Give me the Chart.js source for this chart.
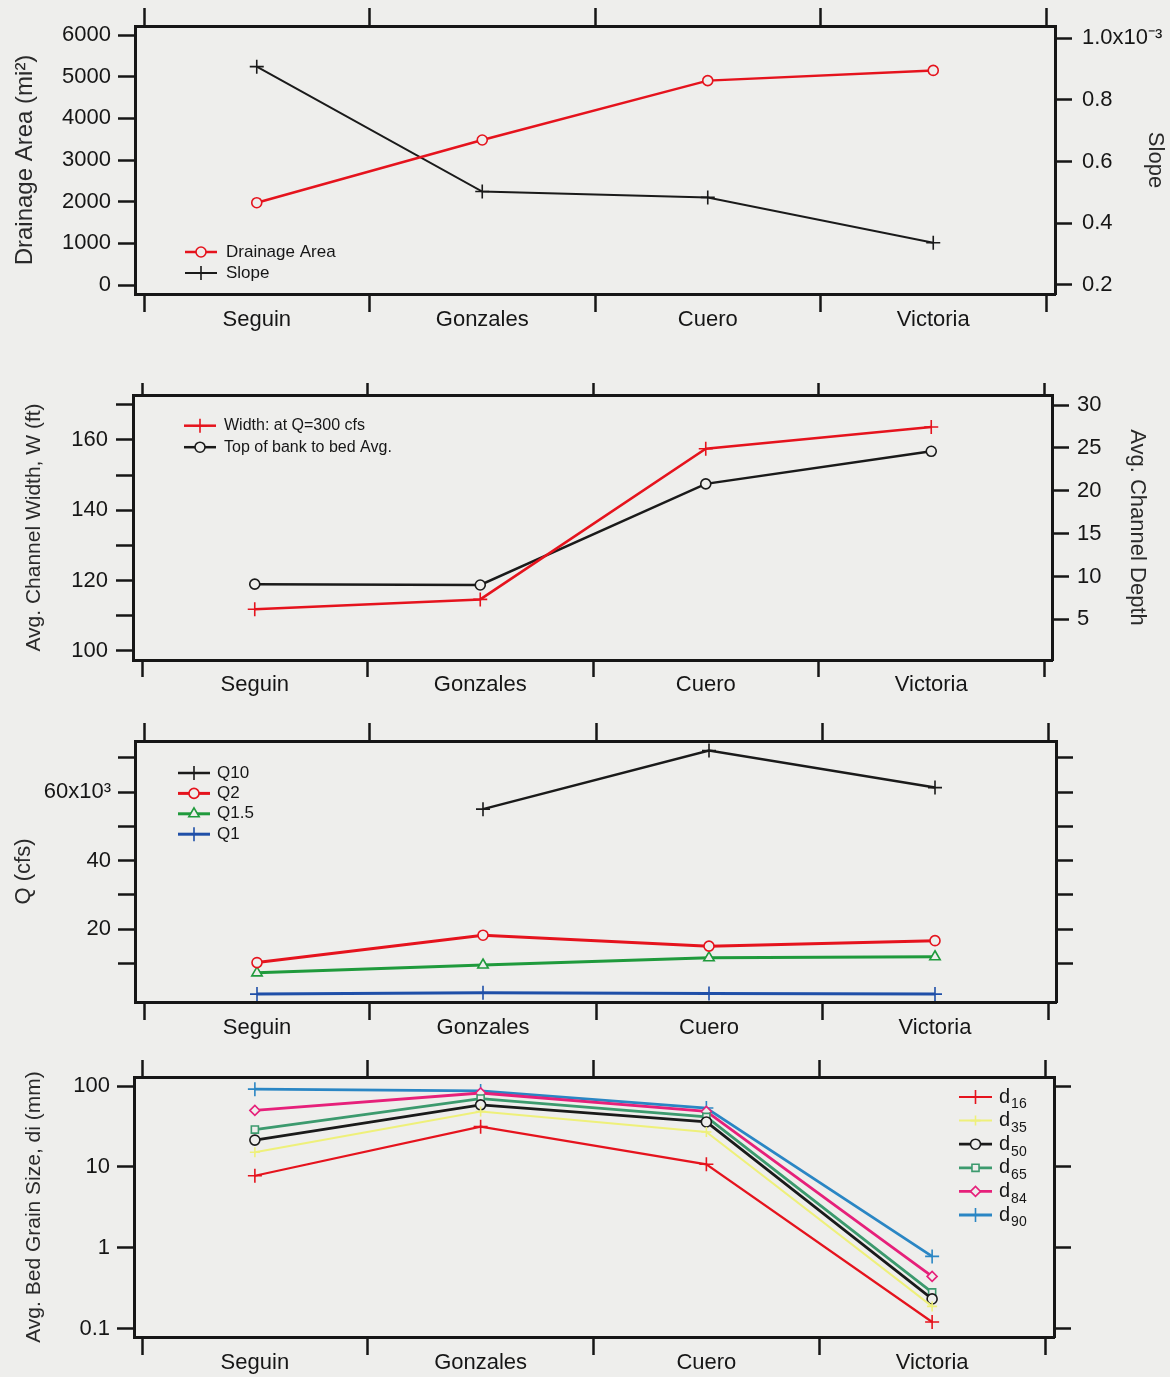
<!DOCTYPE html>
<html>
<head>
<meta charset="utf-8">
<script src="https://cdn.jsdelivr.net/npm/chart.js@4.4.1/dist/chart.umd.min.js"></script>
<style>
  html, body { margin: 0; padding: 0; background: #eeeeec; }
  #wrap { position: relative; width: 1170px; height: 1377px; overflow: hidden; }
  canvas { position: absolute; left: 0; }
</style>
</head>
<body>
<div id="wrap">
  <canvas id="c1" width="1170"></canvas>
  <canvas id="c2" width="1170"></canvas>
  <canvas id="c3" width="1170"></canvas>
  <canvas id="c4" width="1170"></canvas>
</div>
<script>
// ---- data ----
const stations = ['Seguin', 'Gonzales', 'Cuero', 'Victoria'];

// panel 1
const drainageArea = [1975, 3480, 4905, 5150];          // mi^2
const slope = [0.000908, 0.000503, 0.000484, 0.000337];
const areaTicks = [0, 1000, 2000, 3000, 4000, 5000, 6000];
const areaTickLabels = ['0', '1000', '2000', '3000', '4000', '5000', '6000'];
const slopeTicks = [0.0002, 0.0004, 0.0006, 0.0008, 0.001];
const slopeTickLabels = ['0.2', '0.4', '0.6', '0.8', '1.0x10\u207B\u00B3'];

// panel 2
const widthAtQ300 = [111.8, 114.6, 157.5, 163.7];       // ft
const bankToBedDepth = [9.1, 9.0, 20.8, 24.6];          // ft
const widthTicks = [100, 110, 120, 130, 140, 150, 160, 170];
const widthTickLabels = ['100', '', '120', '', '140', '', '160', ''];
const depthTicks = [5, 10, 15, 20, 25, 30];
const depthTickLabels = ['5', '10', '15', '20', '25', '30'];

// panel 3 (cfs)
const q10 = [null, 55000, 72100, 61300];
const q2 = [10200, 18200, 15000, 16600];
const q15 = [7200, 9500, 11600, 11900];
const q1 = [1000, 1400, 1200, 1000];
const qTicks = [10000, 20000, 30000, 40000, 50000, 60000, 70000];
const qTickLabels = ['', '20', '', '40', '', '60x10\u00B3', ''];

// panel 4 (mm)
const d16 = [7.8, 31.5, 10.8, 0.122];
const d35 = [15.2, 48.5, 27.0, 0.19];
const d50 = [21.5, 58.5, 36.0, 0.235];
const d65 = [29.0, 70.0, 41.5, 0.283];
const d84 = [50.0, 82.0, 48.5, 0.446];
const d90 = [91.5, 87.0, 53.5, 0.787];
const grainTicks = [0.1, 1, 10, 100];
const grainTickLabels = ['0.1', '1', '10', '100'];

// ---- styles ----
const INK = '#161616';
const TITLE = '#2a2a2a';
const BG = '#eeeeec';
const RED = '#e5131d';
const BLACK = '#1a1a1a';
const GREEN = '#1f9a3c';
const BLUE = '#1f4fa8';
const YELLOW = '#eef07a';
const TEAL = '#3c9a6e';
const PINK = '#e6207a';
const SKY = '#2a86c4';

Chart.defaults.font.family = "'Liberation Sans', Arial, Helvetica, sans-serif";
Chart.defaults.color = INK;

// frame geometry of each panel (page pixels)
const P1 = {id: 'c1', top: 0,    h: 345, L: 135, R: 1055, T: 26,   B: 294,  b0: 144, b4: 1046, tTop: 18, tBot: 18};
const P2 = {id: 'c2', top: 345,  h: 365, L: 133, R: 1052, T: 395,  B: 660,  b0: 142, b4: 1044, tTop: 12, tBot: 17};
const P3 = {id: 'c3', top: 710,  h: 335, L: 135, R: 1056, T: 741,  B: 1002, b0: 144, b4: 1048, tTop: 18, tBot: 18};
const P4 = {id: 'c4', top: 1045, h: 332, L: 134, R: 1054, T: 1077, B: 1337, b0: 142, b4: 1045, tTop: 17, tBot: 18};
const X_H = 40;

function line(label, values, yAxisID, color, width, pointStyle, pointRadius) {
  return {
    label: label,
    yAxisID: yAxisID,
    data: values.map((v, i) => ({x: i, y: v})),
    borderColor: color,
    borderWidth: width,
    pointStyle: pointStyle,
    pointRadius: pointRadius,
    pointHoverRadius: pointRadius,
    pointBorderColor: color,
    pointBorderWidth: 1.6,
    pointBackgroundColor: BG,
    tension: 0
  };
}

// legend drawn inside the plot frame
function legendPlugin(cfg) {
  return {
    id: 'insideLegend',
    afterDatasetsDraw(chart) {
      const ctx = chart.ctx;
      ctx.save();
      chart.data.datasets.forEach((ds, i) => {
        const x = cfg.x, y = cfg.y + i * cfg.dy;
        ctx.strokeStyle = ds.borderColor;
        ctx.lineWidth = ds.borderWidth;
        ctx.beginPath();
        ctx.moveTo(x, y);
        ctx.lineTo(x + cfg.len, y);
        ctx.stroke();
        ctx.fillStyle = ds.pointBackgroundColor;
        ctx.strokeStyle = ds.pointBorderColor;
        ctx.lineWidth = ds.pointBorderWidth;
        Chart.helpers.drawPoint(ctx, {
          pointStyle: ds.pointStyle, radius: ds.pointRadius,
          borderWidth: ds.pointBorderWidth, rotation: 0
        }, x + cfg.len / 2, y);
        ctx.fillStyle = INK;
        ctx.textAlign = 'left';
        ctx.textBaseline = 'middle';
        ctx.font = cfg.size + "px 'Liberation Sans', Arial, sans-serif";
        const tx = x + cfg.len + cfg.gap;
        const m = cfg.subscript ? /^([A-Za-z]+)(\d+)$/.exec(ds.label) : null;
        if (m) {
          ctx.fillText(m[1], tx, y);
          const w = ctx.measureText(m[1]).width;
          ctx.font = Math.round(cfg.size * 0.7) + "px 'Liberation Sans', Arial, sans-serif";
          ctx.fillText(m[2], tx + w + 1, y + cfg.size * 0.38);
        } else {
          ctx.fillText(ds.label, tx, y);
        }
      });
      ctx.restore();
    }
  };
}

function yAxis(p, side, o) {
  const ax = {
    type: o.type || 'linear',
    position: side,
    bounds: 'data',
    min: o.min,
    max: o.max,
    afterBuildTicks: s => { s.ticks = o.ticks.map(v => ({value: v})); },
    afterFit: s => { s.width = side === 'left' ? p.L : 1170 - p.R; },
    ticks: {
      display: !!o.labels,
      callback: (v, i) => (o.labels ? o.labels[i] : ''),
      color: INK,
      font: {size: 22},
      padding: o.pad || 8,
      autoSkip: false
    },
    grid: {drawOnChartArea: false, tickLength: 17, tickWidth: 2.5, tickColor: INK},
    border: {display: true, width: 3, color: INK}
  };
  if (o.title) {
    ax.title = {
      display: true, text: o.title, color: TITLE,
      font: {size: o.titleSize}, padding: {top: o.titlePad, bottom: 0}
    };
  }
  return ax;
}

function makePanel(p, datasets, yLeft, yRight, legend) {
  const unit = (p.b4 - p.b0) / stations.length;
  const xmin = -0.5 - (p.b0 - p.L) / unit;
  const xmax = stations.length - 0.5 + (p.R - p.b4) / unit;
  const bounds = stations.map((s, i) => i - 0.5).concat([stations.length - 0.5]);
  const bottomTicks = stations.flatMap((s, i) => [i - 0.5, i]).concat([stations.length - 0.5]);

  const canvas = document.getElementById(p.id);
  canvas.height = p.h;
  canvas.style.top = p.top + 'px';

  return new Chart(canvas, {
    type: 'line',
    data: {datasets: datasets},
    options: {
      responsive: false,
      animation: false,
      devicePixelRatio: 1,
      layout: {padding: {left: 0, right: 0, top: p.T - p.top - p.tTop, bottom: p.top + p.h - p.B - X_H}},
      plugins: {legend: {display: false}, tooltip: {enabled: false}},
      scales: {
        x: {
          type: 'linear', position: 'bottom', bounds: 'data', min: xmin, max: xmax,
          afterBuildTicks: s => { s.ticks = bottomTicks.map(v => ({value: v})); },
          afterFit: s => { s.height = X_H; },
          ticks: {
            callback: v => (Number.isInteger(v) ? stations[v] : ''),
            autoSkip: false, maxRotation: 0, color: INK, font: {size: 22}, padding: -5
          },
          grid: {
            drawOnChartArea: false, tickLength: p.tBot, tickWidth: 2.5,
            tickColor: c => (c.tick && Number.isInteger(c.tick.value) ? 'rgba(0,0,0,0)' : INK)
          },
          border: {display: true, width: 3, color: INK}
        },
        xt: {
          type: 'linear', position: 'top', bounds: 'data', min: xmin, max: xmax,
          afterBuildTicks: s => { s.ticks = bounds.map(v => ({value: v})); },
          afterFit: s => { s.height = p.tTop; },
          ticks: {display: false},
          grid: {drawOnChartArea: false, tickLength: p.tTop, tickWidth: 2.5, tickColor: INK},
          border: {display: true, width: 3, color: INK}
        },
        y: yLeft,
        y2: yRight
      }
    },
    plugins: [legendPlugin(legend)]
  });
}

// ---- panel 1 ----
makePanel(P1,
  [
    line('Drainage Area', drainageArea, 'y', RED, 2.5, 'circle', 5),
    line('Slope', slope, 'y2', BLACK, 2, 'cross', 7)
  ],
  yAxis(P1, 'left', {min: -216, max: 6216, ticks: areaTicks, labels: areaTickLabels,
    title: 'Drainage Area (mi\u00B2)', titleSize: 24, titlePad: 11, pad: 7}),
  yAxis(P1, 'right', {min: 0.0001708, max: 0.0010399, ticks: slopeTicks, labels: slopeTickLabels,
    title: 'Slope', titleSize: 22, titlePad: 2, pad: 10}),
  {x: 185, y: 252, dy: 21, len: 32, gap: 9, size: 17}
);

// ---- panel 2 ----
makePanel(P2,
  [
    line('Width: at Q=300 cfs', widthAtQ300, 'y', RED, 2.5, 'cross', 7),
    line('Top of bank to bed Avg.', bankToBedDepth, 'y2', BLACK, 2.5, 'circle', 5)
  ],
  yAxis(P2, 'left', {min: 97.35, max: 172.8, ticks: widthTicks, labels: widthTickLabels,
    title: 'Avg. Channel Width, W (ft)', titleSize: 21, titlePad: 22, pad: 8}),
  yAxis(P2, 'right', {min: 0.25, max: 31.17, ticks: depthTicks, labels: depthTickLabels,
    title: 'Avg. Channel Depth', titleSize: 22, titlePad: 20, pad: 8}),
  {x: 184, y: 80.7, dy: 21.5, len: 32, gap: 8, size: 16}
);

// ---- panel 3 ----
makePanel(P3,
  [
    line('Q10', q10, 'y', BLACK, 2.5, 'cross', 7),
    line('Q2', q2, 'y', RED, 3, 'circle', 5),
    line('Q1.5', q15, 'y', GREEN, 3, 'triangle', 6),
    line('Q1', q1, 'y', BLUE, 3, 'cross', 7)
  ],
  yAxis(P3, 'left', {min: -1310, max: 74900, ticks: qTicks, labels: qTickLabels,
    title: 'Q (cfs)', titleSize: 22, titlePad: 11, pad: 7}),
  yAxis(P3, 'right', {min: -1310, max: 74900, ticks: qTicks}),
  {x: 178, y: 63, dy: 20.4, len: 32, gap: 7, size: 17}
);

// ---- panel 4 ----
makePanel(P4,
  [
    line('d16', d16, 'y', RED, 2.2, 'cross', 7),
    line('d35', d35, 'y', YELLOW, 2, 'cross', 5),
    line('d50', d50, 'y', BLACK, 2.8, 'circle', 5),
    line('d65', d65, 'y', TEAL, 2.8, 'rect', 5),
    line('d84', d84, 'y', PINK, 2.8, 'rectRot', 5),
    line('d90', d90, 'y', SKY, 2.8, 'cross', 7)
  ],
  yAxis(P4, 'left', {type: 'logarithmic', min: 0.0796, max: 129.2, ticks: grainTicks, labels: grainTickLabels,
    title: 'Avg. Bed Grain Size, di (mm)', titleSize: 21, titlePad: 22, pad: 7}),
  yAxis(P4, 'right', {type: 'logarithmic', min: 0.0796, max: 129.2, ticks: grainTicks}),
  {x: 959, y: 52, dy: 23.6, len: 33, gap: 7, size: 20, subscript: true}
);
</script>
</body>
</html>
